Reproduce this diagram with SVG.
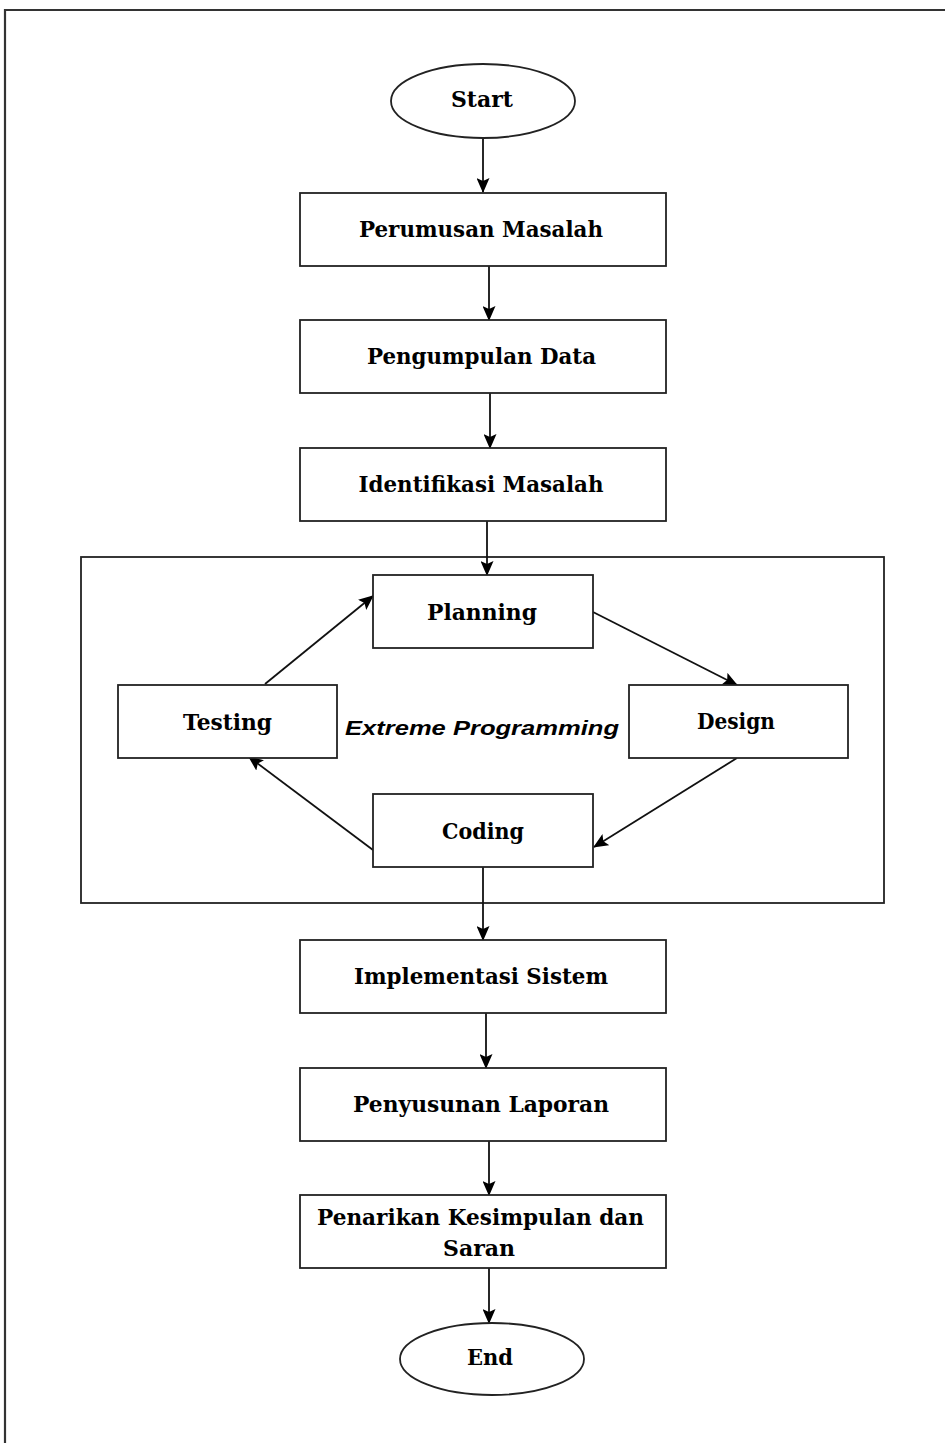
<svg xmlns="http://www.w3.org/2000/svg" width="945" height="1443" viewBox="0 0 945 1443">
<defs>
<marker id="ah" markerUnits="userSpaceOnUse" markerWidth="15" markerHeight="13" viewBox="0 0 15 13" refX="14" refY="6.5" orient="auto">
<path d="M0,0 L15,6.5 L0,13 L3,6.5 Z" fill="#000"/>
</marker>
<style>
.box{fill:#fff;stroke:#222;stroke-width:1.8}
.frame{fill:none;stroke:#222;stroke-width:1.8}
.t{font-family:"DejaVu Serif","Liberation Serif",serif;font-weight:bold;font-size:21.5px;fill:#000;text-anchor:middle}
.xp{font-family:"Liberation Sans",Arial,sans-serif;font-weight:bold;font-style:italic;font-size:20px;fill:#000;text-anchor:middle}
.c{fill:none;stroke:#111;stroke-width:1.8;marker-end:url(#ah)}
</style>
</defs>
<rect width="945" height="1443" fill="#fff"/>
<path d="M5,1443 L5,10 L945,10" fill="none" stroke="#333" stroke-width="2.2"/>
<g id="xp-frame">
<rect class="frame" x="81" y="557" width="803" height="346"/>
<text class="xp" x="482" y="735" textLength="274" lengthAdjust="spacingAndGlyphs">Extreme Programming</text>
</g>
<g id="connectors">
<line class="c" x1="483" y1="138" x2="483" y2="192"/>
<line class="c" x1="489" y1="266" x2="489" y2="320"/>
<line class="c" x1="490" y1="393" x2="490" y2="448"/>
<line class="c" x1="487" y1="521" x2="487" y2="575"/>
<line class="c" x1="265" y1="684" x2="373" y2="596"/>
<line class="c" x1="593" y1="612" x2="737" y2="685"/>
<line class="c" x1="737" y1="758" x2="594" y2="847"/>
<line class="c" x1="373" y1="850" x2="249" y2="757"/>
<line class="c" x1="483" y1="867" x2="483" y2="940"/>
<line class="c" x1="486" y1="1013" x2="486" y2="1068"/>
<line class="c" x1="489" y1="1141" x2="489" y2="1195"/>
<line class="c" x1="489" y1="1268" x2="489" y2="1323"/>
</g>
<g id="start">
<ellipse class="box" cx="483" cy="101" rx="92" ry="37"/>
<text class="t" x="482" y="107" textLength="62" lengthAdjust="spacingAndGlyphs">Start</text>
</g>
<g id="perumusan">
<rect class="box" x="300" y="193" width="366" height="73"/>
<text class="t" x="481" y="237" textLength="244" lengthAdjust="spacingAndGlyphs">Perumusan Masalah</text>
</g>
<g id="pengumpulan">
<rect class="box" x="300" y="320" width="366" height="73"/>
<text class="t" x="481.5" y="364" textLength="229" lengthAdjust="spacingAndGlyphs">Pengumpulan Data</text>
</g>
<g id="identifikasi">
<rect class="box" x="300" y="448" width="366" height="73"/>
<text class="t" x="481" y="492" textLength="245" lengthAdjust="spacingAndGlyphs">Identifikasi Masalah</text>
</g>
<g id="planning">
<rect class="box" x="373" y="575" width="220" height="73"/>
<text class="t" x="482" y="620" textLength="110" lengthAdjust="spacingAndGlyphs">Planning</text>
</g>
<g id="testing">
<rect class="box" x="118" y="685" width="219" height="73"/>
<text class="t" x="227.5" y="730" textLength="89" lengthAdjust="spacingAndGlyphs">Testing</text>
</g>
<g id="design">
<rect class="box" x="629" y="685" width="219" height="73"/>
<text class="t" x="736" y="729" textLength="78" lengthAdjust="spacingAndGlyphs">Design</text>
</g>
<g id="coding">
<rect class="box" x="373" y="794" width="220" height="73"/>
<text class="t" x="483" y="839" textLength="82" lengthAdjust="spacingAndGlyphs">Coding</text>
</g>
<g id="implementasi">
<rect class="box" x="300" y="940" width="366" height="73"/>
<text class="t" x="481" y="984" textLength="254" lengthAdjust="spacingAndGlyphs">Implementasi Sistem</text>
</g>
<g id="penyusunan">
<rect class="box" x="300" y="1068" width="366" height="73"/>
<text class="t" x="481" y="1112" textLength="256" lengthAdjust="spacingAndGlyphs">Penyusunan Laporan</text>
</g>
<g id="penarikan">
<rect class="box" x="300" y="1195" width="366" height="73"/>
<text class="t" x="480.5" y="1225" textLength="327" lengthAdjust="spacingAndGlyphs">Penarikan Kesimpulan dan</text>
<text class="t" x="479" y="1256" textLength="72" lengthAdjust="spacingAndGlyphs">Saran</text>
</g>
<g id="end">
<ellipse class="box" cx="492" cy="1359" rx="92" ry="36"/>
<text class="t" x="490" y="1365" textLength="46" lengthAdjust="spacingAndGlyphs">End</text>
</g>
</svg>
